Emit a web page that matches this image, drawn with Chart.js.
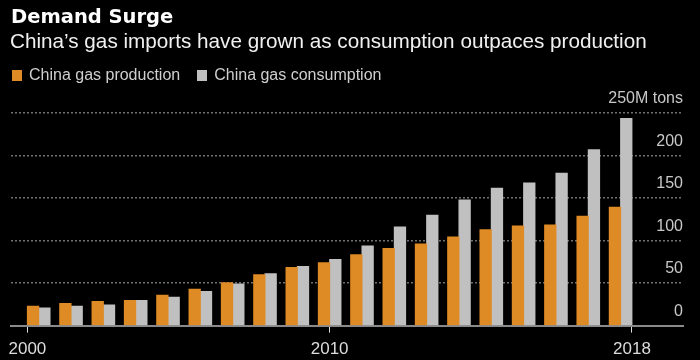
<!DOCTYPE html>
<html>
<head>
<meta charset="utf-8">
<script src="https://cdn.jsdelivr.net/npm/chart.js@4.4.1/dist/chart.umd.min.js"></script>
<style>
  html, body { margin: 0; padding: 0; background: #000; }
  #wrap { position: relative; width: 700px; height: 360px; overflow: hidden; background: #000; }
  #c { position: absolute; left: 0; top: 0; }
  .t { position: absolute; white-space: nowrap; line-height: 1; }
  #title { left: 11px; top: 5px; font: bold 19.5px "DejaVu Sans", sans-serif; color: #fff; }
  #subtitle { left: 10px; top: 29px; font: 20.7px "Liberation Sans", Arial, sans-serif; color: #f0f0f0; }
  #legend { left: 12px; top: 66px; font: 16px "Liberation Sans", Arial, sans-serif; color: #cfcfcf; display: flex; align-items: center; }
  .sw { display: inline-block; width: 10px; height: 11px; margin-right: 7px; }
  .item { display: flex; align-items: center; }
  .item + .item { margin-left: 17px; }
</style>
</head>
<body>
<div id="wrap">
  <canvas id="c" width="700" height="367"></canvas>
  <div class="t" id="title">Demand Surge</div>
  <div class="t" id="subtitle">China’s gas imports have grown as consumption outpaces production</div>
  <div class="t" id="legend"></div>
</div>
<script>
// ---- data ----
const years = [2000, 2001, 2002, 2003, 2004, 2005, 2006, 2007, 2008, 2009,
               2010, 2011, 2012, 2013, 2014, 2015, 2016, 2017, 2018];
const production = [22.9, 26.0, 28.4, 29.5, 35.8, 42.8, 50.5, 59.9, 68.4, 73.9,
                    83.2, 90.6, 96.0, 104.2, 112.8, 117.0, 118.2, 128.7, 139.2];
const consumption = [20.6, 22.9, 24.1, 29.5, 33.4, 40.0, 49.0, 61.0, 69.6, 77.8,
                     93.7, 115.9, 129.9, 147.7, 161.4, 167.6, 179.2, 206.8, 243.4];
const seriesNames = ['China gas production', 'China gas consumption'];
const xTickLabels = ['2000', '2010', '2018'];
const yTickValues = [0, 50, 100, 150, 200, 250];
const yUnitLabel = '250M tons';

// ---- styles ----
const colors = ['#de8a25', '#c0c0c0'];
const CAT_PCT = 0.7;
// tick anchors: left edge of first group, centre of 10th group, right edge of last group
const half = CAT_PCT / 2;
const xTickValues = [years[0] - half, years[9], years[years.length - 1] + half];

// legend (HTML)
const lg = document.getElementById('legend');
seriesNames.forEach((n, i) => {
  const it = document.createElement('span');
  it.className = 'item';
  const sw = document.createElement('span');
  sw.className = 'sw';
  sw.style.background = colors[i];
  it.appendChild(sw);
  it.appendChild(document.createTextNode(n));
  lg.appendChild(it);
});

const datasets = [production, consumption].map((arr, i) => ({
  label: seriesNames[i],
  data: years.map((y, j) => ({ x: y, y: arr[j] })),
  backgroundColor: colors[i],
  borderWidth: 0,
  inflateAmount: 0.5,
  categoryPercentage: CAT_PCT,
  barPercentage: 1.0
}));

new Chart(document.getElementById('c'), {
  type: 'bar',
  data: { datasets },
  options: {
    responsive: false,
    animation: false,
    layout: { padding: { left: 11, right: 17, top: 113, bottom: 0 } },
    plugins: { legend: { display: false }, title: { display: false }, tooltip: { enabled: false } },
    scales: {
      x: {
        type: 'linear',
        offset: false,
        bounds: 'data',
        min: years[0] - 0.857,
        max: years[years.length - 1] + 1.93,
        afterBuildTicks: (scale) => { scale.ticks = xTickValues.map(v => ({ value: v })); },
        ticks: {
          autoSkip: false,
          maxRotation: 0,
          padding: 7,
          color: '#dcdcdc',
          font: { family: '"Liberation Sans", Arial, sans-serif', size: 17 },
          callback: (v, i) => xTickLabels[i]
        },
        grid: { display: true, offset: false, drawOnChartArea: false, drawTicks: true, tickLength: 7, color: '#dddddd', lineWidth: 1 },
        border: { display: true, color: '#8a8a8a', width: 2 }
      },
      y: {
        position: 'right',
        min: 0,
        max: 250,
        afterBuildTicks: (scale) => { scale.ticks = yTickValues.map(v => ({ value: v })); },
        ticks: {
          mirror: true,
          padding: 0,
          labelOffset: -14,
          color: '#c8c8c8',
          font: { family: '"Liberation Sans", Arial, sans-serif', size: 16 },
          callback: (v) => v === yTickValues[yTickValues.length - 1] ? yUnitLabel : String(v)
        },
        grid: {
          drawTicks: false,
          lineWidth: 1.5,
          color: (ctx) => (ctx.tick && ctx.tick.value === 0) ? 'rgba(0,0,0,0)' : '#707070'
        },
        border: { display: false, dash: [2, 2] }
      }
    }
  }
});
</script>
</body>
</html>
